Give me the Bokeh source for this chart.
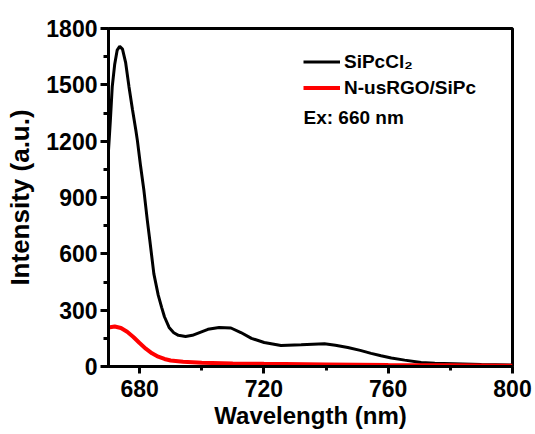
from bokeh.plotting import figure
from bokeh.models import FixedTicker, Legend, LegendItem, Label, Range1d
from bokeh.embed import file_html
from bokeh.resources import INLINE

# SiPcCl2 (black)
wl_sipc = [670.0, 670.6, 671.2, 672.0, 672.8, 673.6, 674.5, 675.5, 676.6, 677.7,
           678.8, 679.3, 680.3, 681.4, 682.5, 683.3, 684.6, 686.0, 687.1, 688.0,
           689.5, 691.0, 692.5, 694.8, 697.0, 699.5, 702.0, 705.6, 709.4, 712.6,
           716.0, 720.1, 725.5, 732.0, 739.5, 743.0, 747.0, 751.0, 754.5, 757.7,
           761.0, 765.3, 770.6, 775.0, 781.0, 790.0, 800.0]
int_sipc = [1150, 1311, 1489, 1610, 1685, 1705, 1690, 1620, 1489, 1370,
            1258, 1203, 1070, 937, 777, 671, 493, 380, 315, 265,
            208, 180, 166, 160, 166, 182, 198, 208, 205, 181,
            150, 128, 112, 116, 121, 113, 101, 86, 70, 57,
            45, 34, 21, 17, 15, 11, 8]

# N-usRGO/SiPc (red)
wl_rgo = [670, 672, 674, 676, 678, 680, 682, 684, 686, 688,
          690, 694, 700, 710, 720, 740, 760, 780, 800]
int_rgo = [208, 213, 205, 185, 157, 125, 95, 70, 52, 40,
           32, 25, 20, 16, 14, 11, 8, 6, 4]

x_major = [680, 720, 760, 800]
x_minor = [700, 740, 780]
y_major = [0, 300, 600, 900, 1200, 1500, 1800]
y_minor = [150, 450, 750, 1050, 1350, 1650]

FONT = "Liberation Sans"

p = figure(width=535, height=434, output_backend="svg", toolbar_location=None,
           x_range=Range1d(670, 800), y_range=Range1d(0, 1800),
           min_border_left=108, min_border_right=23, min_border_top=28,
           min_border_bottom=68)

p.background_fill_color = "white"
p.border_fill_color = "white"
p.xgrid.visible = False
p.ygrid.visible = False
p.outline_line_color = "black"
p.outline_line_width = 3

r1 = p.line(wl_sipc, int_sipc, line_color="black", line_width=3)
r2 = p.line(wl_rgo, int_rgo, line_color="#ff0000", line_width=4)

p.xaxis.ticker = FixedTicker(ticks=x_major, minor_ticks=x_minor)
p.yaxis.ticker = FixedTicker(ticks=y_major, minor_ticks=y_minor)

for ax in (p.xaxis, p.yaxis):
    ax.axis_line_width = 3
    ax.axis_line_color = "black"
    ax.major_tick_line_width = 3
    ax.minor_tick_line_width = 3
    ax.major_tick_line_color = "black"
    ax.minor_tick_line_color = "black"
    ax.major_tick_in = 0
    ax.minor_tick_in = 0
    ax.major_label_text_font = FONT
    ax.major_label_text_font_style = "bold"
    ax.major_label_text_font_size = "23px"
    ax.major_label_text_color = "black"
    ax.axis_label_text_font = FONT
    ax.axis_label_text_font_style = "bold"
    ax.axis_label_text_color = "black"

p.xaxis.major_tick_out = 7
p.xaxis.minor_tick_out = 4
p.yaxis.major_tick_out = 8
p.yaxis.minor_tick_out = 5
p.xaxis.major_label_standoff = 6
p.yaxis.major_label_standoff = 3
p.xaxis.axis_label = "Wavelength (nm)"
p.yaxis.axis_label = "Intensity (a.u.)"
p.xaxis.axis_label_text_font_size = "24px"
p.yaxis.axis_label_text_font_size = "26px"
p.xaxis.axis_label_standoff = 2
p.yaxis.axis_label_standoff = 8

legend = Legend(items=[LegendItem(label="SiPcCl₂", renderers=[r1]),
                       LegendItem(label="N-usRGO/SiPc", renderers=[r2])],
                location=(195, 267), padding=0, margin=0, spacing=3,
                glyph_width=37, glyph_height=23, label_height=23,
                label_standoff=4, background_fill_alpha=0, border_line_alpha=0,
                label_text_font=FONT, label_text_font_style="bold",
                label_text_font_size="19px", label_text_color="black")
p.add_layout(legend)

p.add_layout(Label(x=195, y=249, x_units="screen", y_units="screen",
                   text="Ex: 660 nm", text_font=FONT, text_font_style="bold",
                   text_font_size="19px", text_baseline="middle",
                   text_color="black"))

open("out.html", "w").write(file_html(p, INLINE))
